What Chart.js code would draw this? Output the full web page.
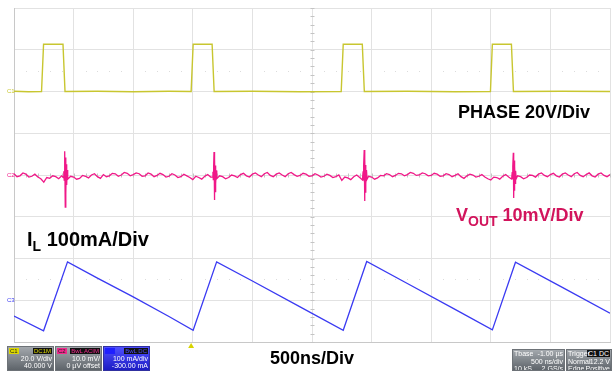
<!DOCTYPE html>
<html>
<head>
<meta charset="utf-8">
<script src="https://cdn.jsdelivr.net/npm/chart.js@4.4.1/dist/chart.umd.min.js"></script>
<style>
  body { margin: 0; background: #fff; }
  #wrap { position: relative; width: 613px; height: 371px; overflow: hidden; font-family: "Liberation Sans", Arial, sans-serif; }
  #scope { position: absolute; left: 0; top: 0; }
  .lbl { position: absolute; font-weight: bold; font-size: 18px; line-height: 1; white-space: nowrap; color: #000; }
  .lbl sub { font-size: 14px; vertical-align: -5px; line-height: 0; }
  .box { position: absolute; box-sizing: border-box; border: 1px solid #6d7277; color: #fff; font-size: 7px; line-height: 7px; overflow: hidden; }
  .hd { position: relative; height: 8px; }
  .hd span { position: absolute; top: 1px; height: 6px; line-height: 6px; font-size: 6px; padding: 0 1px; }
  .ln { text-align: right; padding: 0 1px; height: 7px; position: relative; }
  .ln .l { position: absolute; left: 1px; }
</style>
</head>
<body>
<div id="wrap">
  <canvas id="scope" width="613" height="371"></canvas>

  <div class="lbl" style="left:458px;top:103px">PHASE 20V/Div</div>
  <div class="lbl" style="left:456px;top:206px;color:#d2145c">V<sub>OUT</sub> 10mV/Div</div>
  <div class="lbl" style="left:27px;top:229px;font-size:20px">I<sub>L</sub> 100mA/Div</div>
  <div class="lbl" style="left:270px;top:349px">500ns/Div</div>

  <!-- barre d'état de l'oscilloscope -->
  <div class="box" style="left:7px;top:346px;width:47px;height:25px;background:linear-gradient(#a3a8ad,#5e646a)">
    <div class="hd"><span style="left:1px;background:#dcd800;color:#222">C1</span><span style="right:1px;background:#111;color:#dcd800">DC1M</span></div>
    <div class="ln">20.0 V/div</div>
    <div class="ln">40.000 V</div>
  </div>
  <div class="box" style="left:55px;top:346px;width:47px;height:25px;background:linear-gradient(#a3a8ad,#5e646a)">
    <div class="hd"><span style="left:1px;background:#f0288c;color:#222">C2</span><span style="right:1px;background:#111;color:#f0288c">BwL ACIM</span></div>
    <div class="ln">10.0 mV/</div>
    <div class="ln">0 µV offset</div>
  </div>
  <div class="box" style="left:103px;top:346px;width:47px;height:25px;background:linear-gradient(#5050ff,#1c1cc4);border-color:#3030a0">
    <div class="hd"><span style="left:1px;background:#2020ff;color:#2020ff">C3</span><span style="right:1px;background:#111;color:#4a4aff">BwL DC</span></div>
    <div class="ln">100 mA/div</div>
    <div class="ln">-300.00 mA</div>
  </div>
  <div class="box" style="left:512px;top:349px;width:53px;height:22px;background:linear-gradient(#a3a8ad,#5e646a)">
    <div class="ln" style="height:8px;line-height:8px"><span class="l">Tbase</span>-1.00 µs</div>
    <div class="ln">500 ns/div</div>
    <div class="ln"><span class="l">10 kS</span>2 GS/s</div>
  </div>
  <div class="box" style="left:566px;top:349px;width:46px;height:22px;background:linear-gradient(#a3a8ad,#5e646a)">
    <div class="ln" style="height:8px;line-height:8px"><span class="l">Trigger</span><span style="background:#111;padding:0 1px">C1 DC</span></div>
    <div class="ln"><span class="l">Normal</span>12.2 V</div>
    <div class="ln"><span class="l">Edge</span>Positive</div>
  </div>
</div>

<script>
// base de temps : 500 ns/div, 10 divisions
const timeMaxNs = 5000;

// C1 - PHASE (V)
const phaseT = [0, 120, 231, 248, 411, 428, 700, 1000, 1300, 1486, 1503, 1662, 1679, 2000, 2400, 2745, 2762, 2922, 2939, 3300, 3700, 3997, 4013, 4173, 4190, 4600, 5000];
const phaseV = [0.1, -0.1, 0, 22.6, 22.6, 0, 0.1, -0.1, 0.1, 0, 22.6, 22.6, 0, 0.1, -0.1, 0, 22.6, 22.6, 0, 0.1, -0.1, 0, 22.6, 22.6, 0, 0.1, 0];

// C2 - VOUT (mV), un échantillon toutes les 25 ns
const voutStepNs = 25;
const voutNoise = [
   0.3, -0.4, -0.2,  0.5,  0.2, -0.5, -0.3,  0.2, -0.5, -0.9,
  -1.7, -0.6, -0.8, -0.2, -0.4, -0.9, -0.2, -1.1, -0.9, -0.3,
  -0.5, -1.0, -0.8, -0.1, -0.3, -0.7,  0.0,  0.3, -0.4, -0.8,
   0.1, -0.4, -0.2,  0.4,  0.3, -0.3,  0.0,  0.6,  0.4, -0.2,
   0.1,  0.5,  0.3, -0.3, -0.2,  0.5,  0.2, -0.4, -0.1,  0.4,
   0.1, -0.5, -0.3,  0.3,  0.0, -0.6, -0.4,  0.2, -0.2, -0.6,
  -1.1, -0.3, -0.6, -1.0, -0.3,  0.1, -0.5, -1.1, -0.9, -0.2,
  -0.4, -0.9, -0.6,  0.0, -0.2, -0.6,  0.1,  0.4, -0.2, -0.5,
   0.2,  0.5,  0.0, -0.4,  0.3,  0.6, -0.1, -0.4,  0.2,  0.5,
   0.0, -0.4,  0.3,  0.6,  0.1, -0.3, -0.1,  0.4,  0.2, -0.3,
  -0.2,  0.3,  0.0, -0.5, -0.3,  0.2, -0.1, -0.6, -0.4,  0.0,
  -1.3, -0.5, -0.7, -1.1, -0.4,  0.0, -0.6, -1.2, -0.9, -0.3,
  -0.5, -1.0, -0.7, -0.1, -0.2,  0.3,  0.1, -0.4, -0.1,  0.4,
   0.3, -0.2,  0.1,  0.6,  0.4, -0.1,  0.0,  0.5,  0.3, -0.2,
  -0.1,  0.4,  0.2, -0.3, -0.2,  0.3,  0.1, -0.4, -0.1,  0.3,
  -0.4, -0.8, -0.2,  0.2,  0.0, -0.5, -0.3,  0.1, -0.5, -0.9,
  -1.2, -0.5, -0.6, -1.0, -0.3,  0.1, -0.5, -1.0, -0.8, -0.2,
  -0.4, -0.9, -0.6,  0.0, -0.1, -0.5,  0.2,  0.5, -0.1, -0.4,
   0.1,  0.4, -0.2, -0.5,  0.2,  0.5,  0.0, -0.4,  0.3,  0.6,
  -0.1, -0.4,  0.1,  0.5, -0.2, -0.5,  0.2,  0.5, -0.1, -0.4,
   0.1
];
// pics de commutation sur les fronts descendants
const spike1T = [414, 418, 421, 424, 427, 430, 433, 436, 439, 442, 446, 451];
const spike1V = [-0.6, 0.9, -1.2, 2.5, 5.7, -7.7, 4.2, -4.6, 2.6, -2.4, 1.2, -1.0];
const spike2T = [1665, 1669, 1672, 1675, 1678, 1681, 1684, 1687, 1690, 1693, 1697, 1702];
const spike2V = [-0.5, 0.8, -1.1, 2.2, 5.5, -6.0, 3.8, -4.0, 2.3, -2.1, 1.1, -0.9];
const spike3T = [2925, 2929, 2932, 2935, 2938, 2941, 2944, 2947, 2950, 2953, 2957, 2962];
const spike3V = [-0.4, 0.9, -1.3, 2.4, 6.0, -6.2, 3.9, -4.1, 2.4, -2.2, 1.2, -1.0];
const spike4T = [4176, 4180, 4183, 4186, 4189, 4192, 4195, 4198, 4201, 4204, 4208, 4213];
const spike4V = [-0.5, 0.7, -1.0, 2.1, 5.3, -5.5, 3.5, -3.8, 2.1, -2.0, 1.0, -0.9];

// C3 - IL (mA)
const ilT  = [0, 248, 449, 700, 1000, 1300, 1503, 1700, 2000, 2400, 2762, 2959, 3300, 3700, 4013, 4207, 4600, 5000];
const ilMa = [262, 227, 392, 353, 308, 261, 228, 392, 346, 284, 228, 393, 340, 278, 229, 391, 331, 269];

const toPoints = (xs, ys) => xs.map((x, i) => ({ x: x, y: ys[i] }));

const phasePoints = toPoints(phaseT, phaseV);
const ilPoints = toPoints(ilT, ilMa);
const voutPoints = voutNoise.map((v, i) => ({ x: i * voutStepNs, y: v }))
  .concat(toPoints(spike1T, spike1V), toPoints(spike2T, spike2V), toPoints(spike3T, spike3V), toPoints(spike4T, spike4V))
  .sort((a, b) => a.x - b.x);

// repères de l'écran : graduations du centre, pointillés, marqueurs de voies
const scopeMarks = {
  id: 'scopeMarks',
  beforeDatasetsDraw(chart) {
    const { ctx, scales } = chart;
    const x = scales.x, g = scales.yGrid;
    const cx = Math.round(x.getPixelForValue(timeMaxNs / 2)) + 0.5;
    const cy = Math.round(g.getPixelForValue(4)) + 0.5;
    ctx.save();
    ctx.strokeStyle = '#c4c4c4';
    ctx.lineWidth = 1;
    ctx.beginPath();
    for (let i = 0; i <= 40; i++) {
      const py = Math.round(g.getPixelForValue(i / 5)) + 0.5;
      ctx.moveTo(cx - 2, py); ctx.lineTo(cx + 2, py);
    }
    for (let i = 0; i <= 50; i++) {
      const px = Math.round(x.getPixelForValue(i * 100)) + 0.5;
      ctx.moveTo(px, cy - 2); ctx.lineTo(px, cy + 2);
    }
    ctx.stroke();
    ctx.fillStyle = '#dcdcdc';
    [1.5, 6.5].forEach(row => {
      const py = Math.round(g.getPixelForValue(row));
      for (let i = 1; i < 50; i++) {
        if (i % 5 === 0) continue;
        ctx.fillRect(Math.round(x.getPixelForValue(i * 100)), py, 1, 1);
      }
    });
    ctx.restore();
  },
  afterDraw(chart) {
    const { ctx, scales } = chart;
    ctx.save();
    ctx.font = '6px "Liberation Sans", Arial, sans-serif';
    ctx.textBaseline = 'middle';
    const marks = [
      { txt: 'C1', y: scales.yPhase.getPixelForValue(0), color: '#c8c630' },
      { txt: 'C2', y: scales.yVout.getPixelForValue(0), color: '#f01888' },
      { txt: 'C3', y: scales.yIL.getPixelForValue(300), color: '#3a3af2' }
    ];
    marks.forEach(m => {
      ctx.fillStyle = m.color;
      ctx.fillText(m.txt, 7, m.y);
    });
    // repère de déclenchement
    const tx = scales.x.getPixelForValue(1486);
    ctx.fillStyle = '#d8d400';
    ctx.beginPath();
    ctx.moveTo(tx, 343); ctx.lineTo(tx - 3, 348); ctx.lineTo(tx + 3, 348);
    ctx.closePath();
    ctx.fill();
    ctx.restore();
  }
};

const gridOpts = { color: '#e2e2e2', drawTicks: false };
const borderOpts = { color: '#c8c8c8' };

new Chart(document.getElementById('scope'), {
  type: 'line',
  data: {
    datasets: [
      { label: 'PHASE', data: phasePoints, yAxisID: 'yPhase', borderColor: '#c8c630', borderWidth: 1.4 },
      { label: 'VOUT', data: voutPoints, yAxisID: 'yVout', borderColor: '#f01888', borderWidth: 1.3 },
      { label: 'IL', data: ilPoints, yAxisID: 'yIL', borderColor: '#3a3af2', borderWidth: 1.3 }
    ]
  },
  options: {
    responsive: false,
    animation: false,
    layout: { padding: { left: 14, right: 3, top: 8, bottom: 29 } },
    elements: { point: { radius: 0 }, line: { tension: 0 } },
    plugins: { legend: { display: false }, tooltip: { enabled: false } },
    scales: {
      x: { type: 'linear', min: 0, max: timeMaxNs, ticks: { display: false, stepSize: 500 }, grid: gridOpts, border: borderOpts },
      yGrid: { type: 'linear', position: 'left', min: 0, max: 8, ticks: { display: false, stepSize: 1 }, grid: gridOpts, border: borderOpts },
      yPhase: { type: 'linear', display: false, min: -120, max: 40 },
      yVout: { type: 'linear', display: false, min: -40, max: 40 },
      yIL: { type: 'linear', display: false, min: 200, max: 1000 }
    }
  },
  plugins: [scopeMarks]
});
</script>
</body>
</html>
